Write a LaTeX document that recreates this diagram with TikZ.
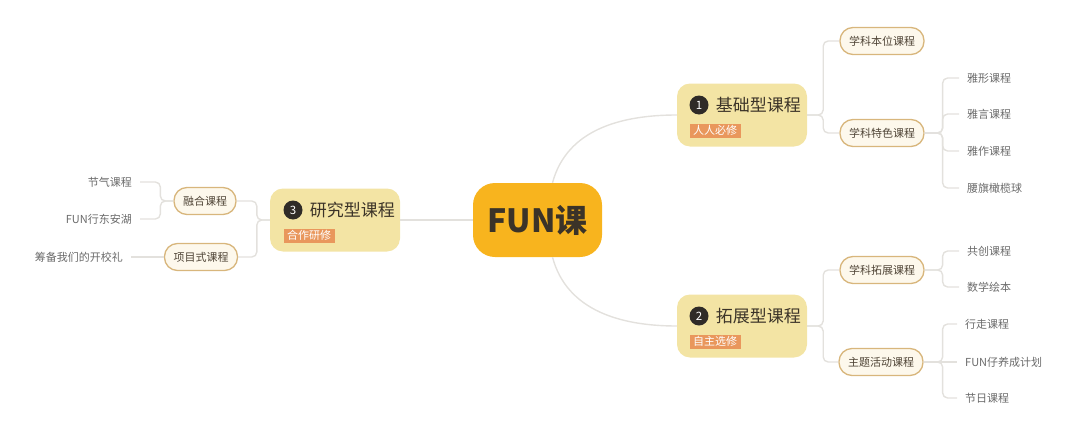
\documentclass[tikz,border=0pt]{standalone}
\usepackage{fontspec}
\setmainfont{Noto Sans CJK SC}
\usetikzlibrary{positioning}
\definecolor{rootfill}{HTML}{F8B41E}
\definecolor{onefill}{HTML}{F3E4A4}
\definecolor{tagfill}{HTML}{E9975C}
\definecolor{twofill}{HTML}{FDF8EC}
\definecolor{twoline}{HTML}{D8B67C}
\definecolor{linkgray}{HTML}{E3E1DD}
\definecolor{inkbrown}{HTML}{3B3328}
\definecolor{twoink}{HTML}{4F4436}
\definecolor{leafgray}{HTML}{6A6A6A}
\definecolor{dotblack}{HTML}{2F2B27}
\tikzset{
  root/.style={fill=rootfill, rounded corners=22pt, minimum width=129pt, minimum height=74pt,
    text=inkbrown, font=\bfseries\fontsize{32}{32}\selectfont},
  lvone/.style={fill=onefill, rounded corners=13pt, minimum width=130pt, minimum height=63pt},
  numdot/.style={circle, fill=dotblack, text=white, minimum size=19pt, inner sep=0pt,
    font=\fontsize{11.5}{11.5}\selectfont},
  titletext/.style={inner sep=0pt, text=inkbrown, font=\fontsize{17}{17}\selectfont},
  tagbox/.style={fill=tagfill, text=white, inner xsep=3.5pt, inner ysep=1pt, minimum height=14pt,
    font=\fontsize{11}{11}\selectfont},
  lvtwo/.style={fill=twofill, draw=twoline, line width=1.3pt, rounded corners=13pt,
    minimum height=27pt, inner xsep=9pt, text=twoink, font=\fontsize{11}{11}\selectfont},
  lvthree/.style={inner xsep=8pt, minimum height=24pt, text=leafgray, font=\fontsize{11}{11}\selectfont},
  link/.style={draw=linkgray, line width=1.4pt, rounded corners=5pt},
}
\begin{document}
\begin{tikzpicture}[x=1pt,y=-1pt]
\useasboundingbox (0,0) rectangle (1080,442);
%%%% The root of the map
\node[root] (fun) at (537.5,220) {FUN课};
%%%%%% The three course groups
\node[lvone] (base) at (742,115) {};
\node[numdot] (basenum) at ([xshift=-43pt,yshift=10pt]base.center) {1};
\node[titletext, right=7pt of basenum] (basetitle) {基础型课程};
\node[tagbox, anchor=west] (basetag) at ([yshift=-25.5pt]basenum.west) {人人必修};
%
\node[lvone] (ext) at (742,326) {};
\node[numdot] (extnum) at ([xshift=-43pt,yshift=10pt]ext.center) {2};
\node[titletext, right=7pt of extnum] (exttitle) {拓展型课程};
\node[tagbox, anchor=west] (exttag) at ([yshift=-25.5pt]extnum.west) {自主选修};
%
\node[lvone] (res) at (335,220) {};
\node[numdot] (resnum) at ([xshift=-42pt,yshift=10pt]res.center) {3};
\node[titletext, right=7pt of resnum] (restitle) {研究型课程};
\node[tagbox, anchor=west] (restag) at ([yshift=-25.5pt]resnum.west) {合作研修};
%%%%%% The second level courses
\node[lvtwo] (benwei) at (882,41) {学科本位课程};
\node[lvtwo] (tese) at (882,133) {学科特色课程};
\node[lvtwo] (tuozhan) at (882,270) {学科拓展课程};
\node[lvtwo] (zhuti) at (881,362) {主题活动课程};
\node[lvtwo] (ronghe) at (205,201) {融合课程};
\node[lvtwo] (xiangmu) at (201,257) {项目式课程};
%%%%%% The leaves on the right
\node[lvthree, anchor=west] (yaxing) at (959,78) {雅形课程};
\node[lvthree, anchor=west] (yayan) at (959,114) {雅言课程};
\node[lvthree, anchor=west] (yazuo) at (959,151) {雅作课程};
\node[lvthree, anchor=west] (yaoqi) at (959,188) {腰旗橄榄球};
\node[lvthree, anchor=west] (gongchuang) at (959,251) {共创课程};
\node[lvthree, anchor=west] (huiben) at (959,287) {数学绘本};
\node[lvthree, anchor=west] (xingzou) at (957,324) {行走课程};
\node[lvthree, anchor=west] (funzai) at (957,362) {FUN仔养成计划};
\node[lvthree, anchor=west] (jieri) at (957,398) {节日课程};
%%%%%% The leaves on the left
\node[lvthree, anchor=east] (jieqi) at (140,182) {节气课程};
\node[lvthree, anchor=east] (donganhu) at (140,219) {FUN行东安湖};
\node[lvthree, anchor=east] (kaixiao) at (131,257) {筹备我们的开校礼};
%%%%%% The edges from the root
\draw[link] ([xshift=15pt]fun.north) to[out=75, in=180] (base.west);
\draw[link] ([xshift=15pt]fun.south) to[out=-75, in=180] (ext.west);
\draw[link] (fun.west) -- (res.east);
%%%%%% The edges of the basic group
\draw[link] (base.east) -- ++(16,0) |- (benwei.west);
\draw[link] (base.east) -- ++(16,0) |- (tese.west);
\draw[link] (tese.east) -- ++(18,0) |- (yaxing.west);
\draw[link] (tese.east) -- ++(18,0) |- (yayan.west);
\draw[link] (tese.east) -- ++(18,0) |- (yazuo.west);
\draw[link] (tese.east) -- ++(18,0) |- (yaoqi.west);
%%%%%% The edges of the extended group
\draw[link] (ext.east) -- ++(16,0) |- (tuozhan.west);
\draw[link] (ext.east) -- ++(16,0) |- (zhuti.west);
\draw[link] (tuozhan.east) -- ++(18,0) |- (gongchuang.west);
\draw[link] (tuozhan.east) -- ++(18,0) |- (huiben.west);
\draw[link] (zhuti.east) -- ++(19,0) |- (xingzou.west);
\draw[link] (zhuti.east) -- (funzai.west);
\draw[link] (zhuti.east) -- ++(19,0) |- (jieri.west);
%%%%%% The edges of the research group
\draw[link] (res.west) -- ++(-13,0) |- (ronghe.east);
\draw[link] (res.west) -- ++(-13,0) |- (xiangmu.east);
\draw[link] (ronghe.west) -- ++(-13,0) |- (jieqi.east);
\draw[link] (ronghe.west) -- ++(-13,0) |- (donganhu.east);
\draw[link] (xiangmu.west) -- (kaixiao.east);
\end{tikzpicture}
\end{document}
